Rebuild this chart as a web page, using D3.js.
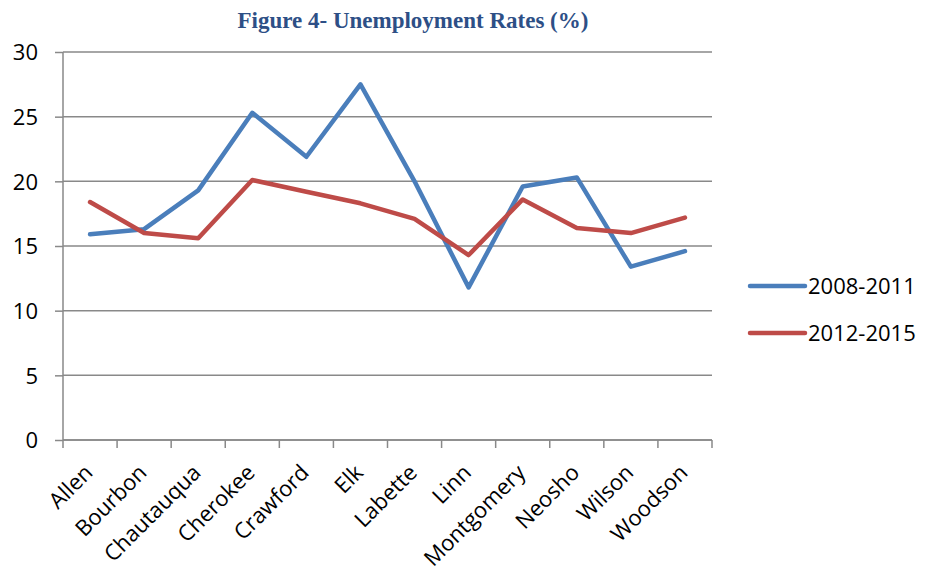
<!DOCTYPE html>
<html>
<head>
<meta charset="utf-8">
<script src="https://cdn.jsdelivr.net/npm/d3@7"></script>
<style>
  body { margin: 0; background: #fff; }
  text { font-family: "Open Sans", "Liberation Sans", sans-serif; }
</style>
</head>
<body>
<svg id="chart" width="925" height="575"></svg>
<script>
// data
var counties = ["Allen", "Bourbon", "Chautauqua", "Cherokee", "Crawford", "Elk",
    "Labette", "Linn", "Montgomery", "Neosho", "Wilson", "Woodson"];
var rates0811 = [15.9, 16.3, 19.3, 25.3, 21.9, 27.5, 20.0, 11.8, 19.6, 20.3, 13.4, 14.6];
var rates1215 = [18.4, 16.0, 15.6, 20.1, 19.2, 18.3, 17.1, 14.3, 18.6, 16.4, 16.0, 17.2];
var seriesNames = ["2008-2011", "2012-2015"];
var yTicks = [0, 5, 10, 15, 20, 25, 30];

var colors = ["#4a7ebb", "#be4b48"];

var svg = d3.select("#chart");
var margin = {top: 52, left: 63, right: 213, bottom: 135};
var width = 925 - margin.left - margin.right,
    height = 575 - margin.top - margin.bottom;

var g = svg.append("g")
    .attr("transform", "translate(" + margin.left + "," + margin.top + ")");

var x = d3.scaleBand().domain(counties).range([0, width]);
var y = d3.scaleLinear().domain([0, 30]).range([height, 0]);

// title
svg.append("text")
    .attr("x", 413)
    .attr("y", 28)
    .attr("text-anchor", "middle")
    .style("font-family", "'Liberation Serif', 'Times New Roman', serif")
    .style("font-weight", "bold")
    .style("font-size", "23px")
    .style("fill", "#2d4f86")
    .text("Figure 4- Unemployment Rates (%)");

// horizontal gridlines
g.append("g")
    .selectAll("line")
    .data(yTicks)
    .enter().append("line")
    .attr("x1", 0)
    .attr("x2", width)
    .attr("y1", function (d) { return y(d); })
    .attr("y2", function (d) { return y(d); })
    .style("stroke", "#898989")
    .style("stroke-width", 1.5);

// y axis
var yAxis = g.append("g")
    .call(d3.axisLeft(y).tickValues(yTicks).tickSize(8).tickPadding(17).tickFormat(d3.format("d")));
yAxis.select(".domain").style("stroke", "#898989").style("stroke-width", 1.5)
    .attr("d", "M0," + height + "V0");
yAxis.selectAll(".tick line").style("stroke", "#898989").style("stroke-width", 1.5);
yAxis.selectAll(".tick text")
    .style("font-size", "22px")
    .style("font-family", "'Open Sans', sans-serif")
    .style("fill", "#000")
    .attr("dy", "0.36em");

// x axis: ticks on band boundaries
var xAxis = g.append("g").attr("transform", "translate(0," + height + ")");
xAxis.append("line")
    .attr("x1", 0).attr("x2", width)
    .style("stroke", "#898989").style("stroke-width", 1.5);
var bounds = counties.map(function (c) { return x(c); }).concat([width]);
xAxis.selectAll(".xtick")
    .data(bounds)
    .enter().append("line")
    .attr("class", "xtick")
    .attr("x1", function (d) { return d; })
    .attr("x2", function (d) { return d; })
    .attr("y1", 0).attr("y2", 8)
    .style("stroke", "#898989").style("stroke-width", 1.5);

xAxis.selectAll(".xlabel")
    .data(counties)
    .enter().append("text")
    .attr("class", "xlabel")
    .attr("text-anchor", "end")
    .attr("transform", function (d) {
        return "translate(" + (x(d) + x.bandwidth() / 2 + 4) + ",34) rotate(-45)";
    })
    .style("font-size", "22px")
    .style("fill", "#000")
    .text(function (d) { return d; });

// lines
var line = d3.line()
    .x(function (d, i) { return x(counties[i]) + x.bandwidth() / 2; })
    .y(function (d) { return y(d); });

[rates0811, rates1215].forEach(function (vals, k) {
    g.append("path")
        .datum(vals)
        .attr("d", line)
        .style("fill", "none")
        .style("stroke", colors[k])
        .style("stroke-width", 4.5)
        .style("stroke-linejoin", "round")
        .style("stroke-linecap", "round");
});

// legend
var legend = svg.append("g").attr("transform", "translate(750,286)");
seriesNames.forEach(function (name, k) {
    var row = legend.append("g").attr("transform", "translate(0," + (k * 47) + ")");
    row.append("line")
        .attr("x1", 0).attr("x2", 55)
        .style("stroke", colors[k])
        .style("stroke-width", 4.5)
        .style("stroke-linecap", "round");
    row.append("text")
        .attr("x", 58)
        .attr("y", 0)
        .attr("dy", "0.36em")
        .style("font-size", "22px")
        .style("fill", "#000")
        .text(name);
});
</script>
</body>
</html>
